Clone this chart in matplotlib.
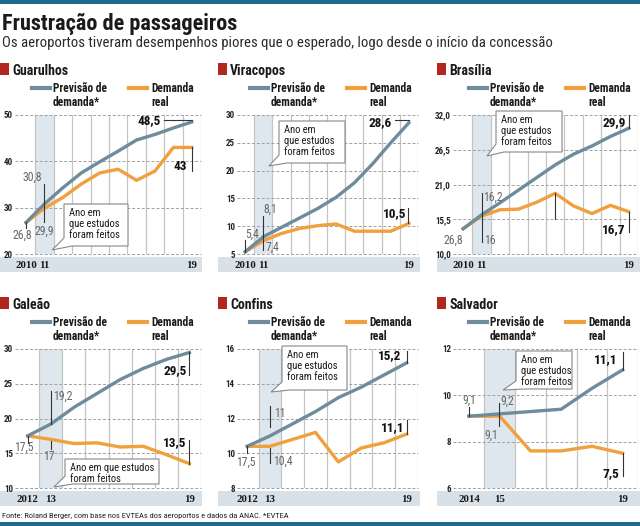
"""Frustracao de passageiros - previsao x demanda real nos aeroportos concedidos"""

import matplotlib
matplotlib.use("Agg")
import matplotlib.pyplot as plt
from matplotlib.patches import Rectangle, Polygon
from matplotlib.lines import Line2D
from matplotlib.transforms import blended_transform_factory

FONTES = ['Roboto Condensed', 'PT Sans Narrow', 'Archivo Narrow', 'Fira Sans Condensed',
          'Liberation Sans Narrow', 'DejaVu Sans']
plt.rcParams['font.family'] = FONTES

# dados (milhoes de passageiros)
guarulhos_anos = list(range(2010, 2020))
guarulhos_prev = [26.8, 30.8, 34.3, 37.5, 39.9, 42.2, 44.6, 45.8, 47.2, 48.5]
guarulhos_real = [26.8, 29.9, 32.2, 35.1, 37.5, 38.3, 35.9, 37.9, 43.0, 43.0]

viracopos_anos = list(range(2010, 2020))
viracopos_prev = [5.4, 8.1, 9.8, 11.5, 13.2, 15.2, 17.8, 21.2, 25.0, 28.6]
viracopos_real = [5.4, 7.4, 8.7, 9.6, 10.1, 10.4, 9.1, 9.1, 9.1, 10.5]

brasilia_anos = list(range(2010, 2020))
brasilia_prev = [14.0, 16.2, 18.1, 20.1, 22.1, 24.1, 25.8, 27.1, 28.6, 29.9]
brasilia_real = [14.0, 16.0, 17.0, 17.1, 18.2, 19.6, 17.6, 16.4, 17.7, 16.7]

galeao_anos = list(range(2012, 2020))
galeao_prev = [17.5, 19.2, 21.6, 23.6, 25.6, 27.2, 28.5, 29.5]
galeao_real = [17.5, 17.0, 16.4, 16.5, 15.9, 16.0, 14.8, 13.5]

confins_anos = list(range(2012, 2020))
confins_prev = [10.4, 11.0, 11.7, 12.4, 13.2, 13.8, 14.5, 15.2]
confins_real = [10.4, 10.4, 10.8, 11.2, 9.5, 10.3, 10.6, 11.1]

salvador_anos = list(range(2014, 2020))
salvador_prev = [9.1, 9.2, 9.3, 9.4, 10.3, 11.1]
salvador_real = [9.1, 9.1, 7.6, 7.6, 7.8, 7.5]

# cores
AZUL = '#6f8c9c'
LARANJA = '#f0a03c'
VERMELHO = '#b3261e'
FAIXA = '#d8e1e8'
DESTAQUE = '#dfe7ee'
TOPO = '#1f6b8f'

W, H = 640, 526
fig = plt.figure(figsize=(6.4, 5.26), dpi=100)


def fx(x):
    return x / W


def fy(y):
    return 1 - y / H


def ftext(x, y, s, **kw):
    return fig.text(fx(x), fy(y), s, **kw)


def prect(x0, y0, x1, y1, color):
    fig.add_artist(Rectangle((fx(x0), fy(y1)), fx(x1 - x0), (y1 - y0) / H,
                             transform=fig.transFigure, color=color, lw=0, zorder=0))


# barras azuis, titulo e subtitulo
prect(0, 0, 640, 4, TOPO)
prect(0, 522, 640, 526, TOPO)
ftext(2, 30, 'Frustração de passageiros', fontsize=16, weight='black', color='#1a1a1a', va='baseline')
ftext(2, 47.5, 'Os aeroportos tiveram desempenhos piores que o esperado, logo desde o início da concessão',
      fontsize=10.6, color='#2a2a2a', va='baseline')
ftext(2, 516, 'Fonte: Roland Berger, com base nos EVTEAs dos aeroportos e dados da ANAC. *EVTEA',
      fontsize=6, color='#222222', va='center')

# layout das colunas / linhas
colunas = [(0, 15, 201, 202), (218, 237, 418, 420), (437, 453, 638, 640)]
ROW = 234

paineis = [
    dict(nome='Guarulhos', col=0, row=0, anos=guarulhos_anos, prev=guarulhos_prev, real=guarulhos_real,
         yt=[20, 30, 40, 50], fmt='{:.0f}', pad=0.6,
         notas=[('p', 0, '26,8', 'g', -4, -13, 'center', (0, 0, 0, -6)),
                ('p', 1, '30,8', 'g', -2, 27, 'right', (0, 20, 0, -18)),
                ('r', 1, '29,9', 'g', 0, -23, 'center', None),
                ('p', 9, '48,5', 'b', -31, 1, 'right', (-28, 2, 0, 2)),
                ('r', 9, '43', 'b', -12, -19, 'center', (0, 0, 0, -24))],
         caixa=(64, 204, 128, 246, (52, 250), 'Ano em\nque estudos\nforam feitos')),
    dict(nome='Viracopos', col=1, row=0, anos=viracopos_anos, prev=viracopos_prev, real=viracopos_real,
         yt=[5, 10, 15, 20, 25, 30], fmt='{:.0f}', pad=0.45,
         notas=[('p', 0, '5,4', 'g', 7, 18, 'center', (0, 12, 0, 0)),
                ('p', 1, '8,1', 'g', 0, 27, 'left', (0, 21, 0, -13)),
                ('r', 1, '7,4', 'g', 2, -7, 'left', None),
                ('p', 9, '28,6', 'b', -17, 0, 'right', (-14, 3, 0, 3)),
                ('r', 9, '10,5', 'b', -3, 10, 'right', (-1, 15, -1, 0))],
         caixa=(279, 121, 345, 163, (269, 166), 'Ano em\nque estudos\nforam feitos')),
    dict(nome='Brasília', col=2, row=0, anos=brasilia_anos, prev=brasilia_prev, real=brasilia_real,
         yt=[10.0, 15.5, 21.0, 26.5, 32.0], fmt='{:.1f}', pad=0.55,
         notas=[('p', 0, '26,8', 'g', 0, -12, 'right', None),
                ('p', 1, '16,2', 'g', 2, 18, 'left', (0, 22, 0, -27)),
                ('r', 1, '16', 'g', 3, -24, 'left', None),
                ('r', 5, '', 'g', 0, 0, 'left', (0, 0, 0, -26)),
                ('p', 9, '29,9', 'b', -3, 6, 'right', (0, 13, 0, 0)),
                ('r', 9, '16,7', 'b', -3, -18, 'right', (0, 0, 0, -20))],
         caixa=(496, 111, 562, 152, (487, 156), 'Ano em\nque estudos\nforam feitos')),
    dict(nome='Galeão', col=0, row=1, anos=galeao_anos, prev=galeao_prev, real=galeao_real,
         yt=[10, 15, 20, 25, 30], fmt='{:.0f}', pad=0.55,
         notas=[('p', 0, '17,5', 'g', -4, -11, 'center', (0, 0, 0, -7)),
                ('p', 1, '19,2', 'g', 2, 28, 'left', (0, 33, 0, 0)),
                ('r', 1, '17', 'g', -2, -17, 'center', (0, -2, 0, -10)),
                ('p', 7, '29,5', 'b', -3, -18, 'right', (0, 0, 0, -23)),
                ('r', 7, '13,5', 'b', -3, 21, 'right', (0, 24, 0, 0))],
         caixa=(65, 459, 159, 484, (54, 487), 'Ano em que estudos\nforam feitos')),
    dict(nome='Confins', col=1, row=1, anos=confins_anos, prev=confins_prev, real=confins_real,
         yt=[8, 10, 12, 14, 16], fmt='{:.0f}', pad=0.45,
         notas=[('p', 0, '17,5', 'g', -1, -16, 'center', (0, 0, 0, -7)),
                ('p', 1, '11', 'g', 4, 22, 'left', (0, 30, 0, 9)),
                ('r', 1, '10,4', 'g', 3, -15, 'left', (0, -2, 0, -17)),
                ('p', 7, '15,2', 'b', -5, 7, 'right', (0, 12, 0, 0)),
                ('r', 7, '11,1', 'b', -2, 7, 'right', (0, 14, 0, 0))],
         caixa=(282, 346, 347, 390, (271, 392), 'Ano em\nque estudos\nforam feitos')),
    dict(nome='Salvador', col=2, row=1, anos=salvador_anos, prev=salvador_prev, real=salvador_real,
         yt=[6, 8, 10, 12], fmt='{:.0f}', pad=0.52,
         notas=[('p', 0, '9,1', 'g', 0, 16, 'center', (0, 9, 0, 0)),
                ('p', 1, '9,2', 'g', 1, 13, 'left', (-1, 11, -1, -12)),
                ('r', 1, '9,1', 'g', -2, -19, 'right', None),
                ('p', 5, '11,1', 'b', -5, 10, 'right', (0, 18, 0, 0)),
                ('r', 5, '7,5', 'b', -3, -20, 'right', (0, 0, 0, -23))],
         caixa=(516, 351, 572, 389, (503, 390), 'Ano em\nque estudos\nforam feitos')),
]


def ponto(ax, x, y, dx, dy):
    d = ax.transData.transform((x, y))
    return fig.transFigure.inverted().transform((d[0] + dx, d[1] + dy))


for p in paineis:
    base, left, right, band_r = colunas[p['col']]
    dy_row = ROW * p['row']
    anos, prev, real = p['anos'], p['prev'], p['real']

    # titulo do painel
    prect(base, 63 + dy_row, base + 8.5, 74.5 + dy_row, VERMELHO)
    ftext(base + 12, 75 + dy_row, p['nome'], fontsize=10, weight='bold', color='#1a1a1a', va='baseline')

    # legenda
    fig.add_artist(Line2D([fx(base + 32), fx(base + 50)], [fy(88 + dy_row)] * 2, transform=fig.transFigure,
                          color=AZUL, lw=3))
    fig.add_artist(Line2D([fx(base + 129), fx(base + 147)], [fy(88 + dy_row)] * 2, transform=fig.transFigure,
                          color=LARANJA, lw=3))
    for txt, xx in [('Previsão de\ndemanda*', base + 53), ('Demanda\nreal', base + 151)]:
        ftext(xx, 82 + dy_row, txt, fontsize=8.3, weight='bold', color='#1a1a1a', va='top', linespacing=1.05)

    # eixos
    top, bot = 115 + dy_row, 254 + dy_row
    ax = fig.add_axes([fx(left), fy(bot), (right - left) / W, (bot - top) / H])
    x0, x1 = anos[0] - p['pad'], anos[-1] + 0.5
    ax.set_xlim(x0, x1)
    ax.set_ylim(p['yt'][0], p['yt'][-1])
    for s in ax.spines.values():
        s.set_visible(False)
    ax.set_xticks([])
    ax.set_yticks(p['yt'])
    ax.set_yticklabels([p['fmt'].format(v).replace('.', ',') for v in p['yt']],
                       fontsize=6.5, weight='bold', color='#222222')
    ax.tick_params(axis='y', length=0, pad=1.5)

    ax.axvspan(anos[0] + 0.5, anos[0] + 1.5, color=DESTAQUE, lw=0, zorder=0)
    for a in anos:
        ax.axvline(a + 0.5, color='#c4c4c4', lw=0.9, zorder=1)
    for v in p['yt']:
        ax.axhline(v, color='#a0a0a0', lw=0.7, ls=(0, (3, 2)), zorder=1, clip_on=False)

    ax.plot(anos, real, color=LARANJA, lw=2.4, solid_joinstyle='round', zorder=3)
    ax.plot(anos, prev, color=AZUL, lw=2.4, solid_joinstyle='round', zorder=4)

    # faixa dos anos
    prect(base, 257 + dy_row, band_r, 272 + dy_row, FAIXA)
    tr = blended_transform_factory(ax.transData, fig.transFigure)
    for a, lab in [(anos[0], str(anos[0])), (anos[1], str(anos[1])[2:]), (anos[-1], str(anos[-1])[2:])]:
        fig.text(a, fy(265 + dy_row), lab, transform=tr, fontsize=7.8, weight='bold',
                 family=['Liberation Serif', 'DejaVu Serif'], ha='center', va='center', color='#1a1a1a')

    # anotacoes
    for serie, i, txt, estilo, tdx, tdy, ha, linha in p['notas']:
        yv = prev[i] if serie == 'p' else real[i]
        xv = anos[i]
        if linha is not None:
            a0 = ponto(ax, xv, yv, linha[0], linha[1])
            a1 = ponto(ax, xv, yv, linha[2], linha[3])
            fig.add_artist(Line2D([a0[0], a1[0]], [a0[1], a1[1]], transform=fig.transFigure,
                                  color='#333333', lw=0.8, zorder=5))
        if txt:
            pt = ponto(ax, xv, yv, tdx, tdy)
            if estilo == 'b':
                fig.text(pt[0], pt[1], txt, fontsize=9.5, weight='bold', color='#111111',
                         ha=ha, va='center', zorder=6)
            else:
                fig.text(pt[0], pt[1], txt, fontsize=8.5, color='#666666',
                         ha=ha, va='center', zorder=6)

    # balao "Ano em que estudos foram feitos"
    bx0, by0, bx1, by1, tip, txt = p['caixa']
    pts = [(bx0, by0), (bx1, by0), (bx1, by1), (bx0 + 8, by1), tip, (bx0, by1 - 8)]
    fig.add_artist(Polygon([(fx(a), fy(b)) for a, b in pts], closed=True, transform=fig.transFigure,
                           facecolor='white', edgecolor='#888888', lw=0.8, zorder=7))
    ftext(bx0 + 5, by0 + 4, txt, fontsize=7.6, color='#1a1a1a', va='top', ha='left',
          linespacing=1.12, zorder=8)

fig.savefig('out.png', dpi=100)
